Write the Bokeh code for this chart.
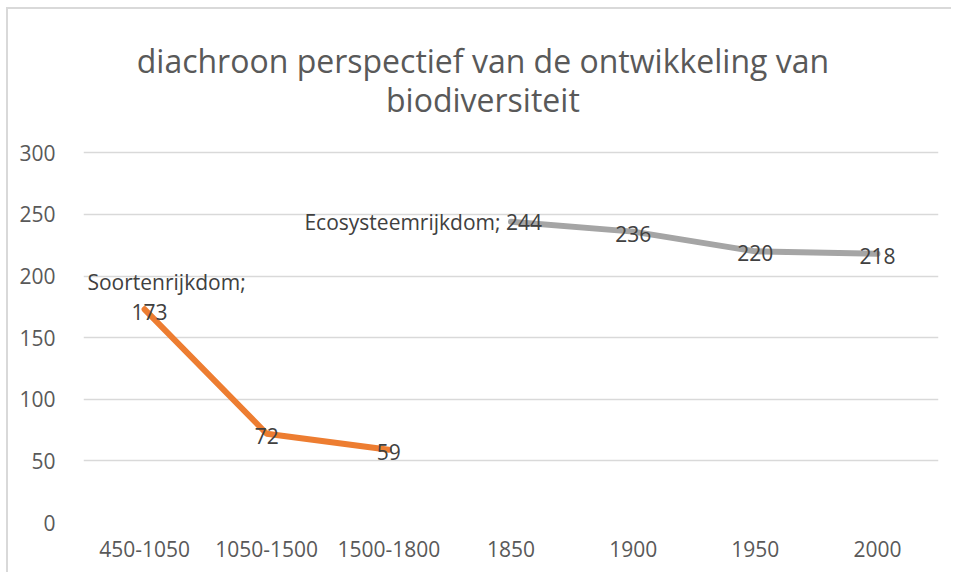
from bokeh.plotting import figure
from bokeh.models import (FactorRange, Range1d, FixedTicker, Label, LabelSet,
                          ColumnDataSource, InlineStyleSheet)
from bokeh.embed import file_html
from bokeh.resources import INLINE
from bokeh.core.properties import value

# ---- data ----
categories = ["450-1050", "1050-1500", "1500-1800", "1850", "1900", "1950", "2000"]
soorten_name = "Soortenrijkdom"
soorten_cats = ["450-1050", "1050-1500", "1500-1800"]
soorten_vals = [173, 72, 59]
eco_name = "Ecosysteemrijkdom"
eco_cats = ["1850", "1900", "1950", "2000"]
eco_vals = [244, 236, 220, 218]
y_ticks = [0, 50, 100, 150, 200, 250, 300]
title_lines = ["diachroon perspectief van de ontwikkeling van", "biodiversiteit"]

FONT = "Open Sans"
ORANGE = "#ED7D31"
GRAY = "#A5A5A5"
TXT = "#595959"
LBL = "#404040"
GRID = "#D9D9D9"

# the frame reaches up to the title area; gridlines/ticks stop at 300
Y_TOP = 400
p = figure(
    width=945, height=565, tools="",
    x_range=FactorRange(*categories, range_padding=0),
    y_range=Range1d(0, Y_TOP),
    output_backend="svg", toolbar_location=None,
    min_border_left=75, min_border_right=15,
    min_border_top=20, min_border_bottom=52,
)
p.styles = {"margin-left": "8px", "margin-top": "9px",
            "box-shadow": "-2px -2px 0 0 #D9D9D9", "overflow": "hidden"}
p.stylesheets = [InlineStyleSheet(css=":host { overflow: hidden !important; } "
                                      "svg, canvas { display: block; }")]
p.outline_line_color = None
p.background_fill_color = "white"
p.border_fill_color = None
p.title.visible = False

# title: two centred lines above the chart
title_x = len(categories) / 2 - 0.23
for txt, ty in zip(title_lines, (375.0, 343.4)):
    p.add_layout(Label(x=title_x, y=ty, text=txt,
                       text_align="center", text_baseline="alphabetic",
                       text_font=FONT, text_font_size="32px", text_color=TXT))

# axes
p.yaxis.ticker = FixedTicker(ticks=y_ticks)
for ax in (p.xaxis[0], p.yaxis[0]):
    ax.axis_line_color = None
    ax.major_tick_line_color = None
    ax.minor_tick_line_color = None
    ax.major_label_text_font = FONT
    ax.major_label_text_font_size = "21px"
    ax.major_label_text_color = TXT
p.yaxis.major_label_standoff = 22
p.xaxis.major_label_standoff = 12

p.xgrid.grid_line_color = None
p.ygrid.grid_line_color = GRID
p.ygrid.grid_line_width = 1.5

# series lines
p.line(x=soorten_cats, y=soorten_vals, line_color=ORANGE, line_width=6,
       line_cap="round", line_join="round")
p.line(x=eco_cats, y=eco_vals, line_color=GRAY, line_width=6,
       line_cap="round", line_join="round")

# data labels
def add_labels(src, align, xo, yo):
    p.add_layout(LabelSet(x="x", y="y", text="text", source=src, x_offset=xo, y_offset=yo,
                          text_align=align, text_baseline="middle",
                          text_font=value(FONT), text_font_size=value("21px"),
                          text_color=LBL))

add_labels(ColumnDataSource(dict(x=soorten_cats[1:], y=soorten_vals[1:],
                                 text=[str(v) for v in soorten_vals[1:]])), "center", 0, -2)
add_labels(ColumnDataSource(dict(x=eco_cats[1:], y=eco_vals[1:],
                                 text=[str(v) for v in eco_vals[1:]])), "center", 0, -2)
add_labels(ColumnDataSource(dict(x=soorten_cats[:1], y=soorten_vals[:1],
                                 text=[str(soorten_vals[0])])), "center", 5, -3)
add_labels(ColumnDataSource(dict(x=soorten_cats[:1], y=soorten_vals[:1],
                                 text=[f"{soorten_name};"])), "center", 22, 27)
add_labels(ColumnDataSource(dict(x=eco_cats[:1], y=eco_vals[:1],
                                 text=[f"{eco_name}; {eco_vals[0]}"])), "right", 31, 0)

open("out.html", "w").write(file_html(p, INLINE))
